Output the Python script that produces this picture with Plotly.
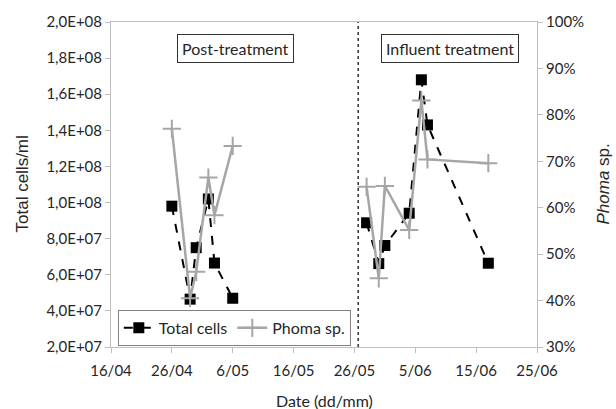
import plotly.graph_objects as go

# Data
post_dates = ["2013-04-26", "2013-04-29", "2013-04-30", "2013-05-02", "2013-05-03", "2013-05-06"]
post_cells = [9.8e7, 4.65e7, 7.5e7, 1.02e8, 6.65e7, 4.7e7]
post_phoma = [0.77, 0.405, 0.462, 0.665, 0.584, 0.733]

infl_dates = ["2013-05-28", "2013-05-30", "2013-05-31", "2013-06-04", "2013-06-06", "2013-06-07", "2013-06-17"]
infl_cells = [8.88e7, 6.62e7, 7.62e7, 9.41e7, 1.68e8, 1.43e8, 6.64e7]
infl_phoma = [0.645, 0.448, 0.647, 0.552, 0.831, 0.704, 0.696]

x_tickvals = ["2013-04-16", "2013-04-26", "2013-05-06", "2013-05-16", "2013-05-26", "2013-06-05", "2013-06-15", "2013-06-25"]
x_ticktext = ["16/04", "26/04", "6/05", "16/05", "26/05", "5/06", "15/06", "25/06"]
y_tickvals = [2e7, 4e7, 6e7, 8e7, 1e8, 1.2e8, 1.4e8, 1.6e8, 1.8e8, 2e8]
y_ticktext = ["2,0E+07", "4,0E+07", "6,0E+07", "8,0E+07", "1,0E+08", "1,2E+08", "1,4E+08", "1,6E+08", "1,8E+08", "2,0E+08"]
y2_tickvals = [0.3, 0.4, 0.5, 0.6, 0.7, 0.8, 0.9, 1.0]

divider_date = "2013-05-26 15:00"

all_dates = post_dates + [None] + infl_dates
all_cells = post_cells + [None] + infl_cells
all_phoma = post_phoma + [None] + infl_phoma

FONT = "Lato"
TXT = "#262626"
AX = "#bfbfbf"

fig = go.Figure()
fig.add_trace(go.Scatter(
    x=all_dates, y=all_cells, name="Total cells", mode="lines+markers",
    connectgaps=False,
    line=dict(color="black", width=2, dash="dash"),
    marker=dict(symbol="square", size=11, color="black"),
    yaxis="y",
))
fig.add_trace(go.Scatter(
    x=all_dates, y=all_phoma, name="Phoma sp.", mode="lines+markers",
    connectgaps=False,
    line=dict(color="#a6a6a6", width=2.5),
    marker=dict(symbol="cross-thin", size=13, color="#a6a6a6",
                line=dict(color="#a6a6a6", width=2)),
    yaxis="y2",
))

fig.add_shape(type="line", xref="x", yref="paper", x0=divider_date, x1=divider_date,
              y0=0, y1=1, line=dict(color="#333333", width=1.5, dash="dot"))

fig.update_layout(
    width=616, height=409,
    margin=dict(l=111, r=79, t=22, b=62),
    paper_bgcolor="white", plot_bgcolor="white",
    font=dict(family=FONT, size=14, color=TXT),
    showlegend=True,
    legend=dict(orientation="h", x=0.016, y=0.114, xanchor="left", yanchor="top",
                bordercolor="#808080", borderwidth=1, bgcolor="white",
                font=dict(family=FONT, size=16, color=TXT),
                itemwidth=30, tracegroupgap=0),
    xaxis=dict(
        type="date", range=["2013-04-16", "2013-06-25"],
        tickvals=x_tickvals, ticktext=x_ticktext,
        showgrid=False, zeroline=False, automargin=False,
        showline=True, linecolor=AX, linewidth=1, mirror=True,
        ticks="outside", ticklen=5, tickcolor=AX, ticklabelstandoff=5,
        tickfont=dict(family=FONT, size=15, color=TXT),
    ),
    yaxis=dict(
        range=[2e7, 2e8], tickvals=y_tickvals, ticktext=y_ticktext,
        showgrid=False, zeroline=False, automargin=False,
        showline=True, linecolor=AX, linewidth=1,
        ticks="outside", ticklen=5, tickcolor=AX,
        tickfont=dict(family=FONT, size=15, color=TXT),
    ),
    yaxis2=dict(
        overlaying="y", side="right",
        range=[0.3, 1.0], tickvals=y2_tickvals, tickformat=".0%",
        showgrid=False, zeroline=False, automargin=False,
        showline=True, linecolor=AX, linewidth=1,
        ticks="outside", ticklen=5, tickcolor=AX,
        tickfont=dict(family=FONT, size=15, color=TXT),
    ),
    annotations=[
        dict(text="Post-treatment", x=0.293, y=0.918, xref="paper", yref="paper",
             xanchor="center", yanchor="middle",
             showarrow=False, font=dict(family=FONT, size=16, color=TXT),
             bordercolor="#333333", borderwidth=1, borderpad=4, bgcolor="white"),
        dict(text="Influent treatment", x=0.795, y=0.918, xref="paper", yref="paper",
             xanchor="center", yanchor="middle",
             showarrow=False, font=dict(family=FONT, size=16, color=TXT),
             bordercolor="#333333", borderwidth=1, borderpad=4, bgcolor="white"),
        # axis titles
        dict(text="Date (dd/mm)", x=0.5, y=400, xref="paper", yref="paper",
             yshift=0, showarrow=False, visible=False),
    ],
)

# axis titles placed in pixel terms relative to the plot area
plot_h = 409 - 22 - 62
plot_w = 616 - 111 - 79
fig.layout.annotations = list(fig.layout.annotations[:2]) + [
    go.layout.Annotation(text="Date (dd/mm)", x=0.5, y=-(400 - 347) / plot_h,
                         xref="paper", yref="paper", xanchor="center", yanchor="middle",
                         showarrow=False, font=dict(family=FONT, size=16, color=TXT)),
    go.layout.Annotation(text="Total cells/ml", x=-(111 - 22) / plot_w, y=0.5,
                         xref="paper", yref="paper", xanchor="center", yanchor="middle",
                         textangle=-90, showarrow=False,
                         font=dict(family="Liberation Sans", size=17, color=TXT)),
    go.layout.Annotation(text="<i>Phoma</i> sp.", x=1 + (603 - 537) / plot_w, y=0.5,
                         xref="paper", yref="paper", xanchor="center", yanchor="middle",
                         textangle=-90, showarrow=False,
                         font=dict(family="Liberation Sans", size=17, color=TXT)),
]

fig.write_html("out.html")
